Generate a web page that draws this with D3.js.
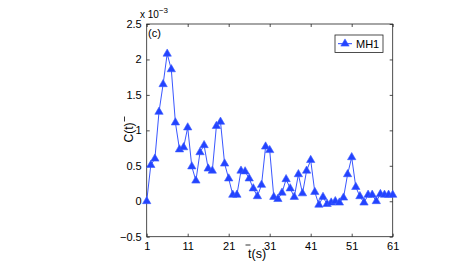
<!DOCTYPE html>
<html><head><meta charset="utf-8">
<script src="https://cdn.jsdelivr.net/npm/d3@7"></script>
<style>body{margin:0;background:#fff}svg{display:block}text{font-family:"Liberation Sans",Arial,sans-serif}</style>
</head><body>
<script>
const times = d3.range(1, 62);
const values = [0,0.51,0.60,1.26,1.65,2.08,1.86,1.11,0.73,0.76,1.04,0.49,0.29,0.69,0.79,0.46,0.43,1.06,1.12,0.53,
0.32,0.09,0.09,0.43,0.42,0.32,0.18,0.07,0.23,0.77,0.72,0.06,0.03,0.12,0.31,0.18,0.06,0.38,0.11,0.43,
0.58,0.13,-0.05,0.06,-0.04,-0.02,0.0,-0.02,0.05,0.38,0.62,0.20,0.07,-0.02,0.09,0.09,0.0,0.10,0.09,0.09,0.09];
const xTicks = [1,11,21,31,41,51,61];
const yTicks = [-0.5,0,0.5,1,1.5,2,2.5];
const seriesName = "MH1";

const W=463,H=261;
const L=146.7,R=392.7,T=24,B=236.7;
const svg=d3.select("body").append("svg").attr("width",W).attr("height",H);
const x=d3.scaleLinear().domain([1,61]).range([L,R]);
const y=d3.scaleLinear().domain([-0.5,2.5]).range([B,T]);
const blue="#2343ff";
const axCol="#222";

svg.append("rect").attr("x",L).attr("y",T).attr("width",R-L).attr("height",B-T)
  .attr("fill","none").attr("stroke",axCol).attr("stroke-width",0.8);

const fmtY=d=>d<0?"\u2212"+Math.abs(d):String(d);
const gB=svg.append("g").attr("transform",`translate(0,${B})`)
  .call(d3.axisBottom(x).tickValues(xTicks).tickSize(-3).tickPadding(6).tickFormat(d3.format("d")));
const gTop=svg.append("g").attr("transform",`translate(0,${T})`)
  .call(d3.axisTop(x).tickValues(xTicks).tickSize(-3).tickFormat(""));
const gL=svg.append("g").attr("transform",`translate(${L},0)`)
  .call(d3.axisLeft(y).tickValues(yTicks).tickSize(-3).tickPadding(5).tickFormat(fmtY));
const gR=svg.append("g").attr("transform",`translate(${R},0)`)
  .call(d3.axisRight(y).tickValues(yTicks).tickSize(-3).tickFormat(""));
[gB,gTop,gL,gR].forEach(g=>{
  g.select(".domain").remove();
  g.selectAll(".tick line").attr("stroke",axCol).attr("stroke-width",0.8);
  g.selectAll("text").attr("fill","#000").style("font-size","11px").style("font-family","Liberation Sans, Arial, sans-serif");
});

const pts=times.map((t,i)=>[t,values[i]]);
svg.append("path").datum(pts)
  .attr("d",d3.line().x(d=>x(d[0])).y(d=>y(d[1])))
  .attr("fill","none").attr("stroke",blue).attr("stroke-width",0.9);
const tri=d3.symbol().type(d3.symbolTriangle).size(30);
svg.append("g").selectAll("path").data(pts).join("path")
  .attr("transform",d=>`translate(${x(d[0])},${y(d[1])})`)
  .attr("d",tri).attr("fill",blue).attr("stroke","#3d5cff").attr("stroke-width",0.6);

const mt=svg.append("text").attr("x",140).attr("y",18).style("font-size","10px").attr("fill","#000");
mt.append("tspan").text("x 10");
mt.append("tspan").attr("dy",-5).style("font-size","8px").text("\u22123");

svg.append("text").attr("x",148).attr("y",37).style("font-size","11px").text("(c)");

svg.append("text").attr("transform","translate(133,132.5) rotate(-90)").attr("text-anchor","middle")
  .style("font-size","12px").text("C(t)");
svg.append("line").attr("x1",124.5).attr("x2",124.5).attr("y1",116.5).attr("y2",121.5).attr("stroke","#000").attr("stroke-width",0.8);
svg.append("text").attr("x",248).attr("y",258).style("font-size","12.5px").text("t(s)");
svg.append("line").attr("x1",245.5).attr("x2",250.5).attr("y1",245).attr("y2",245).attr("stroke","#000").attr("stroke-width",0.8);

const lg=svg.append("g");
lg.append("rect").attr("x",335).attr("y",35).attr("width",48).attr("height",17.5)
  .attr("fill","#fff").attr("stroke",axCol).attr("stroke-width",0.8);
lg.append("line").attr("x1",338).attr("x2",352).attr("y1",43.7).attr("y2",43.7).attr("stroke",blue).attr("stroke-width",1);
lg.append("path").attr("transform","translate(345,43.7)").attr("d",tri).attr("fill",blue).attr("stroke","#3d5cff").attr("stroke-width",0.6);
lg.append("text").attr("x",356).attr("y",47.8).style("font-size","11px").text(seriesName);
</script>
</body></html>
